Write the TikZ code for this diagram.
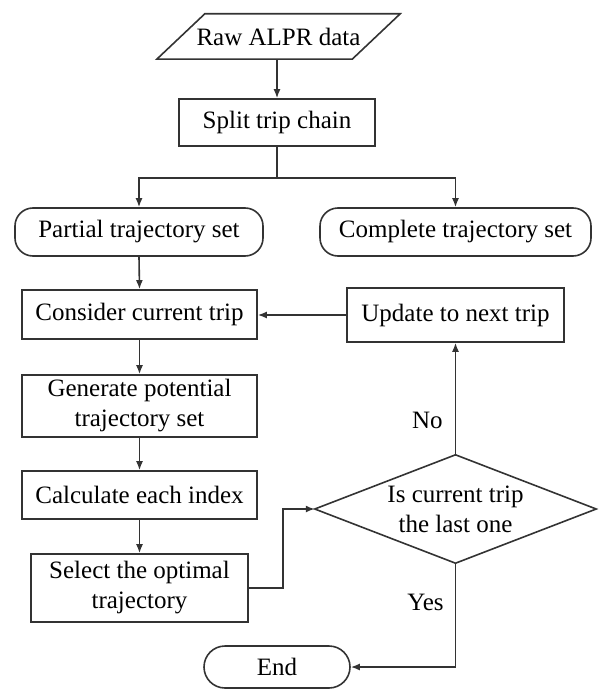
\documentclass[tikz,border=0pt]{standalone}
\usepackage{fontspec}
\setmainfont{Liberation Serif}
\usetikzlibrary{arrows.meta,calc}
\tikzset{
  every node/.style={font=\fontsize{25}{30}\selectfont, align=center, inner sep=0pt},
  box/.style={draw=black!80, line width=1.6pt, minimum width=#1},
  term/.style={draw=black!80, line width=1.6pt, rounded corners=18pt, minimum width=#1},
  conn/.style={draw=black!80, line width=1.6pt},
  arr/.style={conn, -{Latex[length=9pt,width=7pt]}},
  lbl/.style={inner sep=0pt}
}
\begin{document}
\begin{tikzpicture}[x=1pt,y=-1pt]
\useasboundingbox (0,0) rectangle (598,690);
% input parallelogram
\node (raw) [minimum width=243pt, minimum height=45pt] at (278.5,36.5) {Raw ALPR data};
\draw[conn] ([xshift=48pt]raw.north west) -- (raw.north east) -- ([xshift=-48pt]raw.south east) -- (raw.south west) -- cycle;
\node (split) [box=196pt, minimum height=47pt] at (277,122.5) {Split trip chain};
\node (partial) [term=248pt, minimum height=48pt] at (139,232) {Partial trajectory set};
\node (complete) [term=271pt, minimum height=48pt] at (455.5,232) {Complete trajectory set};
\node (consider) [box=235pt, minimum height=49pt] at (139.5,314.5) {Consider current trip};
\node (update) [box=217pt, minimum height=54pt] at (455.5,315) {Update to next trip};
\node (generate) [box=235pt, minimum height=62pt] at (139.5,406) {Generate potential\\trajectory set};
\node (calc) [box=235pt, minimum height=48pt] at (139.5,495) {Calculate each index};
\node (select) [box=217pt, minimum height=68pt] at (139.5,588) {Select the optimal\\trajectory};
\node (dec) [minimum width=281pt, minimum height=108pt] at (455.5,509) {Is current trip\\the last one};
\draw[conn] (dec.north) -- (dec.east) -- (dec.south) -- (dec.west) -- cycle;
\node (end) [draw=black!80, line width=1.6pt, rounded corners=21pt, minimum width=146pt, minimum height=42pt] at (277,667) {End};
% connectors
\draw[arr] (raw.south -| split.north) -- (split.north);
\draw[conn] (split.south) -- ++(0,31) coordinate (br);
\draw[arr] (br) -| (partial.north);
\draw[arr] (br) -| (complete.north);
\draw[arr] (partial.south) -- (consider.north);
\draw[arr] (consider.south) -- (generate.north);
\draw[arr] (generate.south) -- (calc.north);
\draw[arr] (calc.south) -- (select.north);
\draw[arr] (select.east) -- ++(34,0) |- (dec.west);
\draw[arr] (update.west) -- (update.west -| consider.east);
\draw[arr] (dec.north) -- (update.south) node[lbl, pos=0.31, left=12pt] {No};
\draw[arr] (dec.south) |- (end.east) node[lbl, pos=0.19, left=11pt] {Yes};
\end{tikzpicture}
\end{document}
